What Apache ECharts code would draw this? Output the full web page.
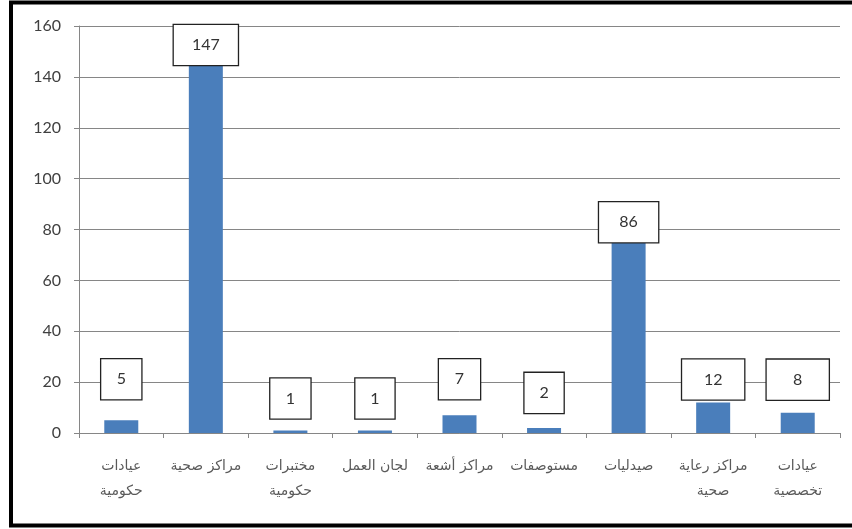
<!DOCTYPE html>
<html>
<head>
<meta charset="utf-8">
<script src="https://cdn.jsdelivr.net/npm/echarts@6/dist/echarts.min.js"></script>
<style>
  html, body { margin: 0; padding: 0; background: #fff; }
  #chart { width: 852px; height: 529px; }
</style>
</head>
<body>
<div id="chart"></div>
<script>
// Facility categories and counts
const categories = [
  'عيادات\nحكومية',
  'مراكز صحية',
  'مختبرات\nحكومية',
  'لجان العمل',
  'مراكز أشعة',
  'مستوصفات',
  'صيدليات',
  'مراكز رعاية\nصحية',
  'عيادات\nتخصصية'
];
const counts = [5, 147, 1, 1, 7, 2, 86, 12, 8];
const yTicks = [0, 20, 40, 60, 80, 100, 120, 140, 160];

// Boxed value labels: width of each box and its vertical shift from the bar top
const boxWidth = [40, 64, 40, 39, 41, 39, 59, 62, 62];
const boxShift = [-21, 6, -12, -12, -16, -15, 28, -3, -13];

const chart = echarts.init(document.getElementById('chart'));

const barData = counts.map((v, i) => ({
  value: v,
  label: {
    width: boxWidth[i],
    offset: [0, boxShift[i]]
  }
}));

chart.setOption({
  animation: false,
  backgroundColor: '#ffffff',
  grid: { left: 79, right: 12, top: 26, bottom: 96, containLabel: false },
  xAxis: {
    type: 'category',
    data: categories,
    axisLine: { lineStyle: { color: '#868686', width: 1 } },
    axisTick: { show: true, alignWithLabel: false, length: 5, lineStyle: { color: '#868686' } },
    axisLabel: {
      interval: 0,
      margin: 21,
      color: '#5a5a5a',
      fontFamily: 'DejaVu Sans',
      fontSize: 14,
      lineHeight: 25
    },
    splitLine: { show: false }
  },
  yAxis: {
    type: 'value',
    min: yTicks[0],
    max: yTicks[yTicks.length - 1],
    interval: yTicks[1] - yTicks[0],
    axisLine: { show: true, lineStyle: { color: '#868686', width: 1 } },
    axisTick: { show: true, length: 5, lineStyle: { color: '#868686' } },
    axisLabel: {
      margin: 18,
      color: '#404040',
      fontFamily: 'Lato',
      fontSize: 16
    },
    splitLine: { show: true, lineStyle: { color: '#868686', width: 1 } }
  },
  series: [{
    type: 'bar',
    data: barData,
    barWidth: 34,
    itemStyle: { color: '#4A7EBB' },
    label: {
      show: true,
      position: 'top',
      distance: 0,
      color: '#333333',
      fontFamily: 'Lato',
      fontSize: 16,
      align: 'center',
      height: 40,
      lineHeight: 40,
      padding: 0,
      backgroundColor: '#ffffff',
      borderColor: '#222222',
      borderWidth: 1.3
    }
  }],
  graphic: [{
    type: 'rect',
    shape: { x: 11, y: 2.5, width: 860, height: 523 },
    style: { fill: 'none', stroke: '#000000', lineWidth: 4 },
    silent: true,
    z: 100
  }]
});
</script>
</body>
</html>
